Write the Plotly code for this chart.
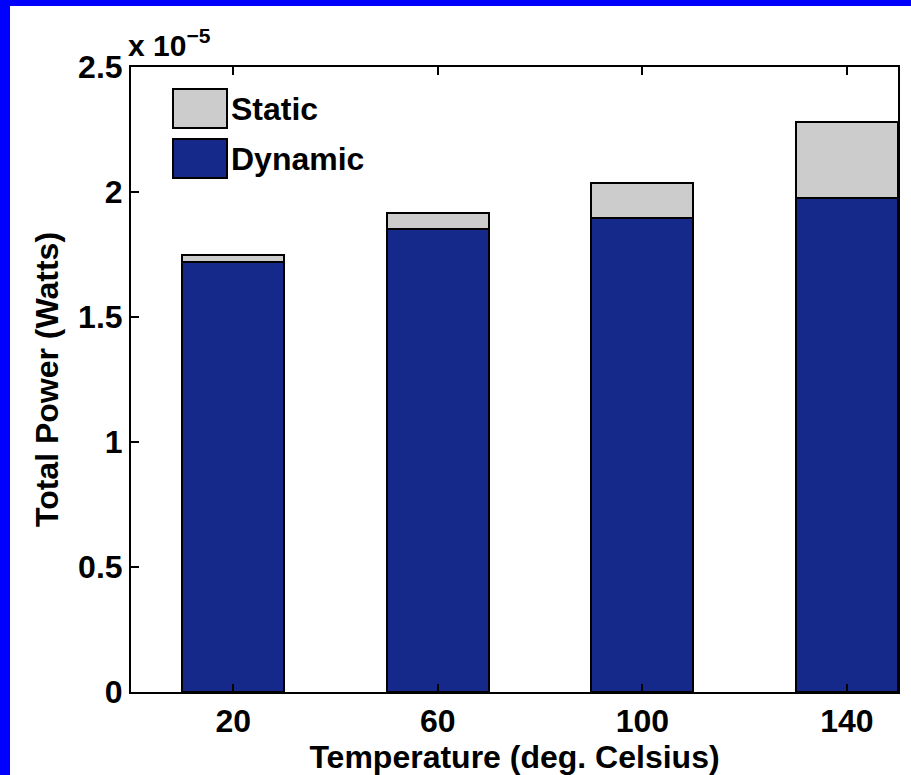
import plotly.graph_objects as go

temperatures = [20, 60, 100, 140]
dynamic_power = [1.72, 1.852, 1.897, 1.977]   # x 1e-5 W
static_power = [0.028, 0.063, 0.139, 0.304]   # x 1e-5 W
y_ticks = [0, 0.5, 1, 1.5, 2, 2.5]
y_tick_text = ["0", "0.5", "1", "1.5", "2", "2.5"]

DYN = "#15298A"
STA = "#CCCCCC"
FONT = "Liberation Sans, Arial, sans-serif"
FS = 32

L, R, T, B = 131, 13, 67, 83
W, H = 911, 775
PW, PH = W - L - R, H - T - B

fig = go.Figure()
fig.add_trace(go.Bar(x=temperatures, y=dynamic_power, width=20, name="Dynamic",
                     marker=dict(color=DYN, line=dict(color="black", width=2))))
fig.add_trace(go.Bar(x=temperatures, y=static_power, width=20, name="Static",
                     marker=dict(color=STA, line=dict(color="black", width=2))))

fig.update_layout(
    barmode="stack", width=W, height=H,
    margin=dict(l=L, r=R, t=T, b=B),
    paper_bgcolor="white", plot_bgcolor="white",
    showlegend=False,
    font=dict(family=FONT, size=FS, color="black"),
)
fig.update_xaxes(range=[0, 150], tickvals=temperatures, ticktext=[str(t) for t in temperatures],
                 ticks="inside", ticklen=8, tickwidth=2, tickcolor="black",
                 showline=True, linecolor="black", linewidth=2, mirror="ticks",
                 showgrid=False, zeroline=False,
                 tickfont=dict(family=FONT, size=FS, weight="bold"),
                 title=dict(text="<b>Temperature (deg. Celsius)</b>", standoff=0,
                            font=dict(family=FONT, size=FS)))
fig.update_yaxes(range=[0, 2.5], tickvals=y_ticks, ticktext=y_tick_text,
                 ticks="inside", ticklen=8, tickwidth=2, tickcolor="black",
                 showline=True, linecolor="black", linewidth=2, mirror=True,
                 showgrid=False, zeroline=False,
                 tickfont=dict(family=FONT, size=FS, weight="bold"),
                 title=dict(text="<b>Total Power (Watts)</b>", standoff=10,
                            font=dict(family=FONT, size=FS)))

def px_x(p): return (p - L) / PW
def px_y(p): return (H - B - p) / PH

# blue frame strips on top and left
fig.add_shape(type="rect", xref="paper", yref="paper", x0=px_x(0), x1=px_x(W), y0=px_y(6), y1=px_y(0),
              fillcolor="#0000FF", line_width=0, layer="below")
fig.add_shape(type="rect", xref="paper", yref="paper", x0=px_x(0), x1=px_x(10), y0=px_y(H), y1=px_y(0),
              fillcolor="#0000FF", line_width=0, layer="below")

# legend
legend_items = [("Static", STA, 89, 128), ("Dynamic", DYN, 139, 178)]
for name, col, t, b in legend_items:
    fig.add_shape(type="rect", xref="paper", yref="paper", x0=px_x(173), x1=px_x(227),
                  y0=px_y(b), y1=px_y(t), fillcolor=col, line=dict(color="black", width=2))
    fig.add_annotation(xref="paper", yref="paper", x=px_x(229), y=px_y((t + b) / 2),
                       text="<b>%s</b>" % name, showarrow=False, xanchor="left", yanchor="middle",
                       font=dict(family=FONT, size=FS))

fig.add_annotation(xref="paper", yref="paper", x=px_x(126), y=px_y(64), xanchor="left", yanchor="bottom",
                   text="<b>x 10<sup>−5</sup></b>", showarrow=False, font=dict(family=FONT, size=30))

fig.write_html("out.html", config={"displayModeBar": False},
               post_script="document.body.style.margin='0';")
